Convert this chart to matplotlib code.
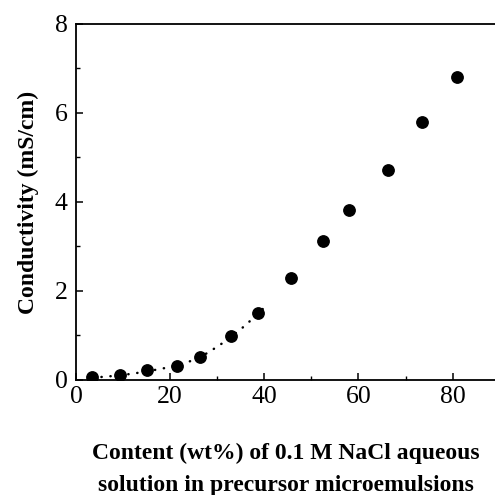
import matplotlib
matplotlib.use("Agg")
import matplotlib.pyplot as plt
from matplotlib.ticker import MultipleLocator

# Data
content_wt = [3.4, 9.4, 15.0, 21.5, 26.4, 33.0, 38.7, 45.6, 52.4, 57.9, 66.2, 73.4, 81.0]
conductivity = [0.05, 0.11, 0.22, 0.31, 0.50, 0.98, 1.50, 2.29, 3.11, 3.81, 4.71, 5.80, 6.81]

# Dotted guide curve (low-content region)
curve_x = [3.5, 8, 12, 16, 20, 24, 28, 32, 36, 41]
curve_y = [0.04, 0.08, 0.13, 0.20, 0.28, 0.40, 0.60, 0.88, 1.22, 1.72]

xticks = [0, 20, 40, 60, 80]
yticks = [0, 2, 4, 6, 8]
xlabel_lines = ["Content (wt%) of 0.1 M NaCl aqueous",
                "solution in precursor microemulsions"]
ylabel = "Conductivity (mS/cm)"

plt.rcParams['font.family'] = ['Liberation Serif', 'DejaVu Serif']

fig = plt.figure(figsize=(4.95, 4.95), dpi=100)
ax = fig.add_axes([76/495, 1 - 379.5/495, 1 - 76/495, (379.5 - 24)/495])

ax.plot(curve_x, curve_y, linestyle=(0, (0.1, 3.5)), color='black', linewidth=1.8,
        dash_capstyle='round')
ax.plot(content_wt, conductivity, 'o', color='black', markersize=8.2, linestyle='none')

ax.set_xlim(0, 89)
ax.set_ylim(0, 8)
ax.set_xticks(xticks)
ax.set_yticks(yticks)
ax.xaxis.set_minor_locator(MultipleLocator(10))
ax.yaxis.set_minor_locator(MultipleLocator(1))
ax.tick_params(which='major', direction='in', length=5, width=1.1, labelsize=18.5, pad=5)
ax.tick_params(which='minor', direction='in', length=3, width=1.0)
ax.tick_params(axis='y', pad=6)

ax.spines['right'].set_visible(False)
for s in ['left', 'bottom', 'top']:
    ax.spines[s].set_linewidth(1.3)

fig.text(286/495, 1 - 459/495, xlabel_lines[0], ha='center', va='baseline',
         fontsize=17, fontweight='bold')
fig.text(286/495, 1 - 491/495, xlabel_lines[1], ha='center', va='baseline',
         fontsize=17, fontweight='bold')
fig.text(28/495, 1 - 202/495, ylabel, ha='center', va='center', rotation=90,
         fontsize=17, fontweight='bold')

fig.savefig("out.png", dpi=100)
